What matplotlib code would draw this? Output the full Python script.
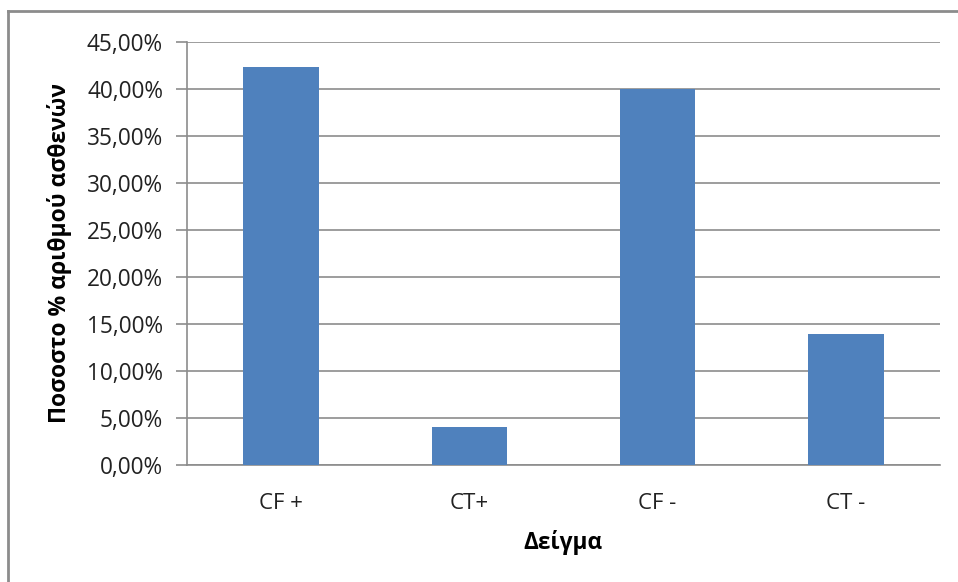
import matplotlib
matplotlib.use("Agg")
import matplotlib.pyplot as plt
from matplotlib.lines import Line2D
from matplotlib.ticker import FuncFormatter, MultipleLocator

categories = ["CF +", "CT+", "CF -", "CT -"]
percentages = [42.35, 4.0, 39.95, 13.9]

y_max = 45
y_step = 5

plt.rcParams["font.family"] = ["Open Sans", "DejaVu Sans"]

fig = plt.figure(figsize=(9.58, 5.82), dpi=100)
ax = fig.add_axes([186.7 / 958, 1 - 465 / 582, (940 - 186.7) / 958, (465 - 41.7) / 582])

x = range(len(categories))
ax.bar(x, percentages, width=0.4, color="#4F81BD", zorder=3)

ax.set_xlim(-0.5, len(categories) - 0.5)
ax.set_ylim(0, y_max)
ax.yaxis.set_major_locator(MultipleLocator(y_step))
ax.yaxis.set_major_formatter(FuncFormatter(lambda v, p: f"{v:.2f}%".replace(".", ",")))
ax.set_xticks(list(x))
ax.set_xticklabels(categories)

ax.grid(axis="y", color="#8C8C8C", linewidth=1.2, zorder=0)
for side in ["top", "right"]:
    ax.spines[side].set_visible(False)
ax.spines["left"].set_color("#8C8C8C")
ax.spines["bottom"].set_color("#8C8C8C")
ax.spines["left"].set_linewidth(1.2)
ax.spines["bottom"].set_linewidth(1.2)

ax.tick_params(axis="y", length=8, color="#8C8C8C", width=1.2, labelsize=16.3, pad=9, labelcolor="#222222")
ax.tick_params(axis="x", length=0, labelsize=16, pad=20, labelcolor="#222222")

ax.set_ylabel("Ποσοστο % αριθμού ασθενών", fontsize=16.5, fontweight="bold", labelpad=11)
ax.set_xlabel("Δείγμα", fontsize=16.3, fontweight="bold", labelpad=12)

# chart frame: left and top edges
fig.add_artist(Line2D([8 / 958, 8 / 958], [0, 1 - 11 / 582], transform=fig.transFigure,
                      color="#8C8C8C", linewidth=2))
fig.add_artist(Line2D([8 / 958, 1], [1 - 11 / 582, 1 - 11 / 582], transform=fig.transFigure,
                      color="#8C8C8C", linewidth=2))

fig.savefig("out.png", dpi=100)
